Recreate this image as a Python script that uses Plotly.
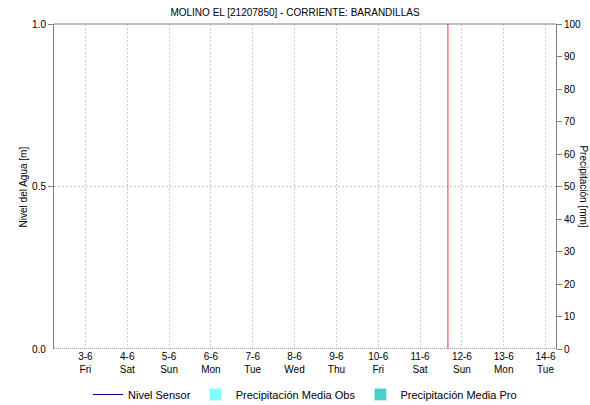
import plotly.graph_objects as go

title = "MOLINO EL [21207850] - CORRIENTE: BARANDILLAS"
tick_dates = ["2022-06-%02d" % d for d in range(3, 15)]
tick_labels = ["3-6<br>Fri", "4-6<br>Sat", "5-6<br>Sun", "6-6<br>Mon", "7-6<br>Tue", "8-6<br>Wed",
               "9-6<br>Thu", "10-6<br>Fri", "11-6<br>Sat", "12-6<br>Sun", "13-6<br>Mon", "14-6<br>Tue"]
x_range = ["2022-06-02 06:00", "2022-06-14 06:00"]
current_time = "2022-06-11 16:00"

# No data recorded in the window (values missing)
nivel_x = ["2022-06-11 16:00"]
nivel_y = [None]
obs_x = ["2022-06-11 16:00"]
obs_y = [None]
pro_x = ["2022-06-11 16:00"]
pro_y = [None]

font = "Liberation Sans, Arial, sans-serif"
fig = go.Figure()
fig.add_trace(go.Scatter(x=nivel_x, y=nivel_y, mode="lines", name="Nivel Sensor",
                         line=dict(color="#00008b", width=1), showlegend=True))
fig.add_trace(go.Bar(x=obs_x, y=obs_y, name="Precipitación Media Obs",
                     marker_color="#7fffff", yaxis="y2", showlegend=True))
fig.add_trace(go.Bar(x=pro_x, y=pro_y, name="Precipitación Media Pro",
                     marker_color="#48d1cc", yaxis="y2", showlegend=True))

fig.add_shape(type="line", xref="paper", yref="y", x0=0, x1=1, y0=0, y1=0,
              line=dict(color="#444444", width=1, dash="1px,1px"), layer="above")
fig.add_shape(type="line", xref="paper", yref="paper", x0=0, x1=1, y0=1, y1=1,
              line=dict(color="#808080", width=1), layer="above")
fig.add_shape(type="line", xref="x", yref="paper", x0=current_time, x1=current_time, y0=0, y1=1,
              line=dict(color="#ff3030", width=1), layer="above")

fig.add_annotation(text="Precipitación [mm]", xref="paper", yref="paper", x=1.054, y=0.5,
                   xanchor="center", yanchor="middle",
                   textangle=90, showarrow=False, font=dict(size=10, color="#000"))
fig.add_annotation(text="Nivel del Agua [m]", xref="paper", yref="paper", x=-0.06, y=0.5,
                   xanchor="center", yanchor="middle",
                   textangle=-90, showarrow=False, font=dict(size=10, color="#000"))
fig.add_annotation(text="0.0", xref="paper", yref="y", x=0, y=0, xanchor="right", xshift=-6,
                   showarrow=False, font=dict(size=10))

grid = dict(showgrid=True, gridcolor="#c8c8c8", griddash="2px,2px", gridwidth=1)
fig.update_layout(
    width=590, height=405,
    margin=dict(l=54, r=34, t=24, b=56, autoexpand=False),
    paper_bgcolor="white", plot_bgcolor="white",
    font=dict(family=font, size=10, color="#000"),
    title=dict(text=title, x=0.5, xanchor="center", y=0.97, yanchor="middle",
               font=dict(size=10, family=font)),
    showlegend=True,
    legend=dict(orientation="h", x=0.5, xanchor="center", y=-0.14, yanchor="middle",
                font=dict(size=11), traceorder="normal", itemwidth=30),
    xaxis=dict(type="date", range=x_range, tickvals=tick_dates, ticktext=tick_labels,
               showline=False, ticks="", tickfont=dict(size=10), zeroline=False,
               automargin=False, **grid),
    yaxis=dict(range=[0, 1], tickvals=[0.5, 1], ticktext=["0.5", "1.0"],
               showline=True, linecolor="#808080", ticks="outside", ticklen=5, tickcolor="#808080",
               zeroline=False, automargin=False, **grid),
    yaxis2=dict(range=[0, 100], overlaying="y", side="right", dtick=10,
                showgrid=False, showline=True, linecolor="#808080", ticks="outside", ticklen=5,
                tickcolor="#808080", zeroline=False, automargin=False),
)
fig.write_html("out.html", config={"displayModeBar": False},
               post_script="document.body.style.margin='0';document.body.style.overflow='hidden';")
